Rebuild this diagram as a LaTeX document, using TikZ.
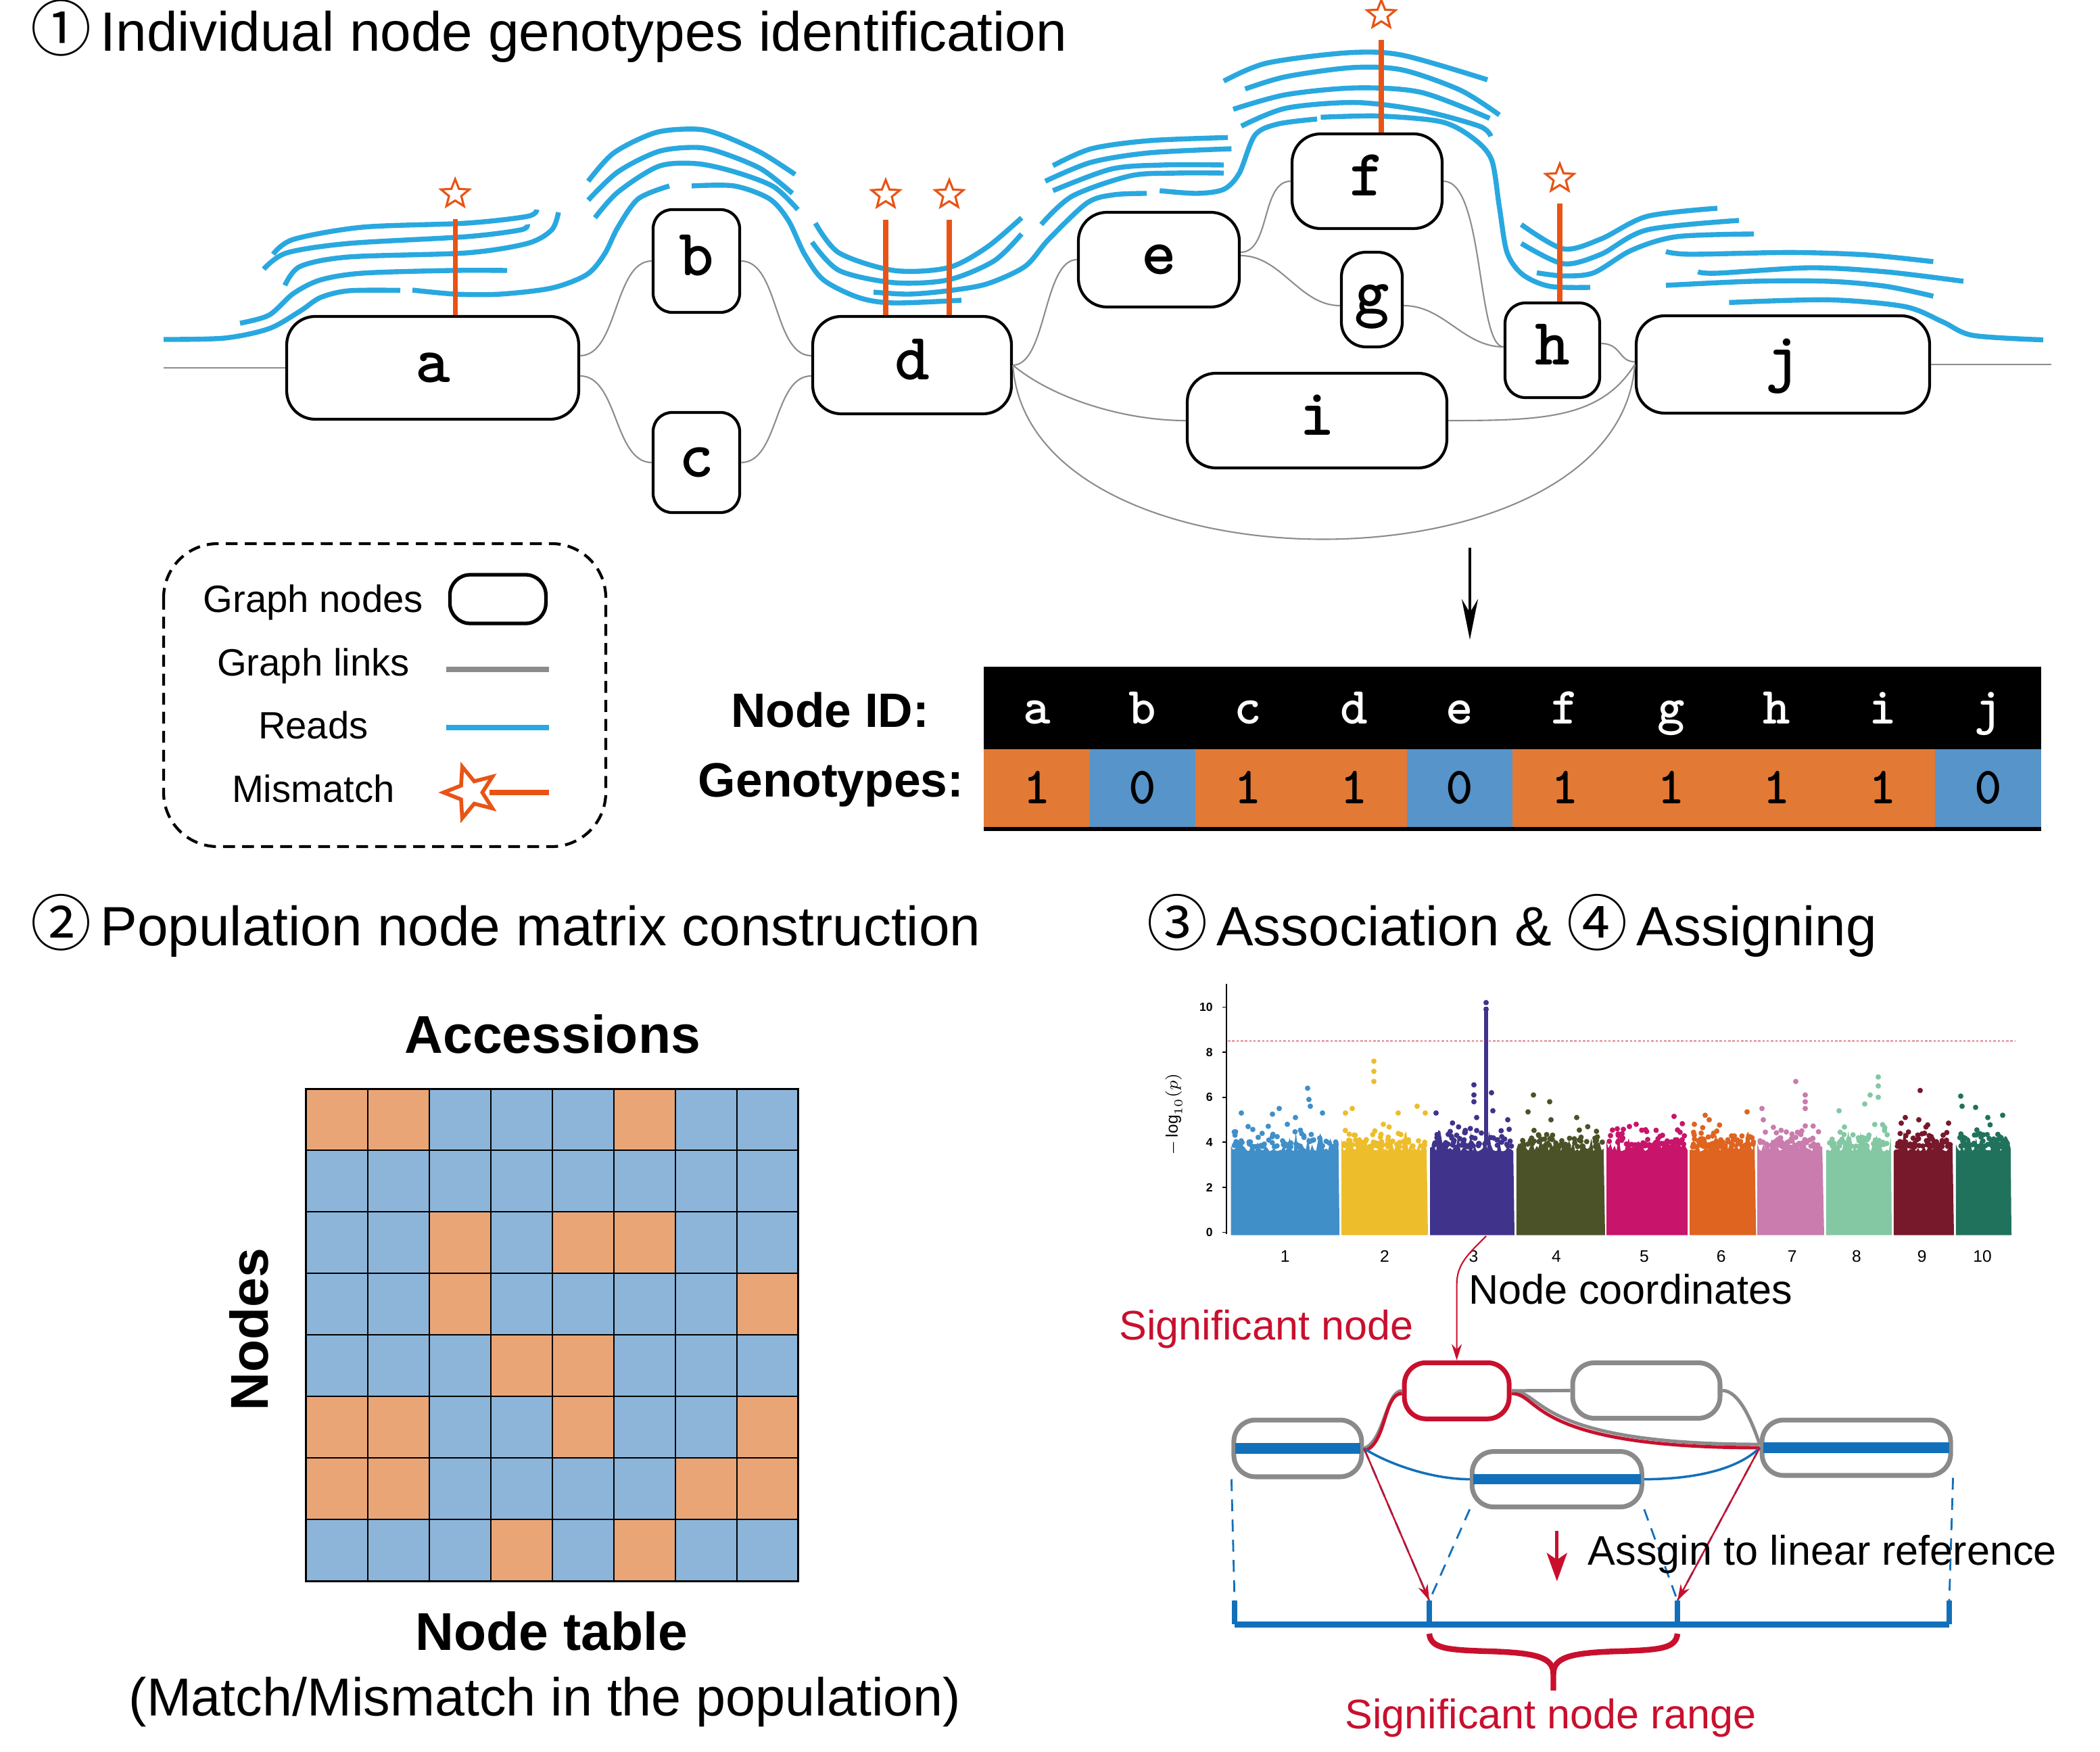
\documentclass[tikz,border=0pt]{standalone}
\usepackage{fontspec}
\setmainfont{Liberation Sans}
\newfontfamily\circfont{Noto Sans CJK SC}
\usetikzlibrary{arrows.meta,shapes.geometric}
\newcommand\setfs[1]{\fontsize{#1}{#1}\selectfont}
\newcommand\circnum[1]{{\circfont\setfs{25.6}#1}\hspace{-2.8pt}}
\definecolor{readblue}{RGB}{41,168,224}
\definecolor{mmorange}{RGB}{232,84,22}
\definecolor{linkgray}{RGB}{140,140,140}
\definecolor{nodegray}{RGB}{138,138,138}
\definecolor{gt1}{RGB}{226,121,52}
\definecolor{gt0}{RGB}{86,148,201}
\definecolor{mc1}{RGB}{234,165,118}
\definecolor{mc0}{RGB}{140,181,217}
\definecolor{sigred}{RGB}{200,16,46}
\definecolor{refblue}{RGB}{18,112,186}
\definecolor{chr1}{RGB}{64,143,201}
\definecolor{chr2}{RGB}{237,189,44}
\definecolor{chr3}{RGB}{63,51,139}
\definecolor{chr4}{RGB}{75,82,40}
\definecolor{chr5}{RGB}{200,20,106}
\definecolor{chr6}{RGB}{222,100,32}
\definecolor{chr7}{RGB}{201,124,173}
\definecolor{chr8}{RGB}{131,200,163}
\definecolor{chr9}{RGB}{120,24,43}
\definecolor{chr10}{RGB}{32,114,92}
\tikzset{
  gnode/.style={draw,line width=1.2pt,rounded corners=0.42cm,inner sep=0pt,
    font=\ttfamily\bfseries\setfs{28},text height=0.44cm,text depth=0cm},
  link/.style={linkgray,line width=0.6pt},
  read/.style={readblue,line width=2.1pt},
  mm/.style={mmorange,line width=2.1pt,shorten >=0.26cm},
  mstar/.style={star,star points=5,star point ratio=2.3,draw=mmorange,fill=white,
    line width=0.9pt,minimum size=0.44cm,inner sep=0pt},
  title/.style={anchor=base west,inner sep=0pt,font=\setfs{23.3}},
  legtext/.style={anchor=base,font=\setfs{16}},
  idtext/.style={anchor=base,white,font=\ttfamily\bfseries\setfs{22}},
  gttext/.style={anchor=base,font=\ttfamily\bfseries\setfs{22}},
  boldlab/.style={font=\bfseries\setfs{22.4}},
  snode/.style={draw=nodegray,line width=2pt,rounded corners=0.32cm,inner sep=0pt,minimum height=0.82cm},
  bar/.style={refblue,line width=4.4pt,shorten <=1.5pt,shorten >=1.5pt},
  proj/.style={refblue,line width=0.8pt,dash pattern=on 5pt off 3.5pt},
  redarr/.style={sigred,line width=0.7pt,-{Stealth[length=0.24cm,width=0.15cm]}},
  plain/.style={anchor=base west,inner sep=0pt,font=\setfs{17.4}},
  redlab/.style={plain,sigred}
}
\begin{document}
\begin{tikzpicture}[x=0.02cm,y=-0.02cm]
\useasboundingbox (0,0) rectangle (1553,1295.5);
% titles
\node[title] (t1) at (22.6,38) {\circnum{①} Individual node genotypes identification};
\node[title] (t2) at (22.6,699.4) {\circnum{②} Population node matrix construction};
\node[title] (t3) at (847.8,699.4) {\circnum{③} Association \& \circnum{④} Assigning};

% graph nodes
\node[gnode,minimum width=4.32cm,minimum height=1.52cm] (a) at (320,272) {a};
\node[gnode,rounded corners=0.28cm,minimum width=1.28cm,minimum height=1.52cm] (b) at (515,193) {b};
\node[gnode,rounded corners=0.28cm,minimum width=1.28cm,minimum height=1.48cm] (c) at (515,342) {c};
\node[gnode,minimum width=2.94cm,minimum height=1.44cm] (d) at (674.5,270) {d};
\node[gnode,minimum width=2.38cm,minimum height=1.40cm] (e) at (857,192) {e};
\node[gnode,minimum width=2.22cm,minimum height=1.40cm] (f) at (1011,134) {f};
\node[gnode,rounded corners=0.36cm,minimum width=0.90cm,minimum height=1.40cm] (g) at (1014.5,221.5) {g};
\node[gnode,rounded corners=0.3cm,minimum width=1.40cm,minimum height=1.40cm] (h) at (1148,259) {h};
\node[gnode,minimum width=3.84cm,minimum height=1.40cm] (i) at (974,311) {i};
\node[gnode,minimum width=4.34cm,minimum height=1.44cm] (j) at (1318.5,269.5) {j};
\coordinate (in) at (121,272);
\coordinate (out) at (1517,269.5);

% graph links
\draw[link] (in) -- (a.west);
\draw[link] ([yshift=0.18cm]a.east) .. controls +(28,0) and +(-28,0) .. (b.west);
\draw[link] ([yshift=-0.12cm]a.east) .. controls +(28,0) and +(-28,0) .. (c.west);
\draw[link] (b.east) .. controls +(28,0) and +(-28,0) .. ([yshift=0.14cm]d.west);
\draw[link] (c.east) .. controls +(28,0) and +(-28,0) .. ([yshift=-0.16cm]d.west);
\draw[link] (d.east) .. controls +(25,0) and +(-25,0) .. (e.west);
\draw[link] (d.east) .. controls +(30,25) and +(-45,0) .. (i.west);
\draw[link] (d.east) .. controls +(12,172) and +(-12,172) .. (j.west);
\draw[link] ([yshift=0.11cm]e.east) .. controls +(22,0) and +(-22,0) .. (f.west);
\draw[link] ([yshift=0.06cm]e.east) .. controls +(30,0) and +(-30,0) .. ([yshift=-0.09cm]g.west);
\draw[link] (f.east) .. controls +(30,0) and +(-20,0) .. ([yshift=0.05cm]h.west);
\draw[link] ([yshift=-0.09cm]g.east) .. controls +(30,0) and +(-30,0) .. ([yshift=0.05cm]h.west);
\draw[link] ([yshift=0.1cm]h.east) .. controls +(15,0) and +(-12,0) .. ([yshift=0.04cm]j.west);
\draw[link] (i.east) .. controls +(70,0) and +(-25,40) .. (j.west);
\draw[link] (j.east) -- (out);

% reads
\draw[read] plot[smooth] coordinates {(121,251) (166,250) (199,243) (222,230) (237,220) (258,215) (296,214.7)};
\draw[read] plot[smooth] coordinates {(305,214.5) (337,217.5) (370,217.5) (408,213) (434,203) (447,188) (457,168) (472,147) (495,137.5)};
\draw[read] plot[smooth] coordinates {(511.5,137.5) (543,137.5) (569,147) (583,163) (595,188) (609,207) (635,220) (661,224) (711,222)};
\draw[read] plot[smooth] coordinates {(177.5,239) (199,233) (217,217) (237,207) (268,202) (334,200) (375,200)};
\draw[read] plot[smooth] coordinates {(210.7,211) (222,197) (258,190) (345,187) (390,180) (408,170) (413,157)};
\draw[read] plot[smooth] coordinates {(195,199) (212,187) (258,180) (345,175) (385,170) (390,166)};
\draw[read] plot[smooth] coordinates {(202,188) (217,177) (268,168) (345,165) (390,160) (397,155)};
\draw[read] plot[smooth] coordinates {(435,134) (454,113) (485,98) (515,95.5) (534,100) (563,113) (588,129)};
\draw[read] plot[smooth] coordinates {(435,148) (457,127) (487,112) (515,109) (534,113) (563,125) (586,143)};
\draw[read] plot[smooth] coordinates {(440,161) (457,142) (487,123) (515,121) (543,127) (572,138) (590,155)};
\draw[read] plot[smooth] coordinates {(603,165) (620.5,187) (661,200) (701,198) (729.6,183) (755.5,161)};
\draw[read] plot[smooth] coordinates {(600.5,179) (620.5,200) (661,209) (701,207) (735,193) (755.5,173)};
\draw[read] plot[smooth] coordinates {(646,216) (672,217.5) (701,215) (729.6,210) (758,197) (775.5,177) (804,150) (824,144) (848,143)};
\draw[read] plot[smooth] coordinates {(778.7,122.5) (807,110) (850,104) (908,101.7)};
\draw[read] plot[smooth] coordinates {(773,134) (807,120) (850,113) (910.7,110)};
\draw[read] plot[smooth] coordinates {(778.7,141) (821.8,125) (860,122) (905,122)};
\draw[read] plot[smooth] coordinates {(770,166) (793,145) (836,130) (870,128) (905,128)};
\draw[read] plot[smooth] coordinates {(857.6,141) (885,143) (905,140) (916.5,128) (928,100) (945,91.7) (974,88)};
\draw[read] plot[smooth] coordinates {(905,60) (936.6,46.7) (996.8,39) (1037,40.8) (1100,59)};
\draw[read] plot[smooth] coordinates {(920.8,65.8) (951,56.7) (999.7,50) (1037,51.7) (1080,66.7) (1108.8,85)};
\draw[read] plot[smooth] coordinates {(912,80.8) (951,70) (1002.6,65) (1051,68.3) (1101.6,87.5)};
\draw[read] plot[smooth] coordinates {(918,93.3) (951,80) (1002.6,75.8) (1051,81.7) (1094,93.3) (1102.5,100.8)};
\draw[read] plot[smooth] coordinates {(976.7,86.7) (1019.8,85.8) (1065.7,90) (1088.7,101.7) (1103,118) (1108.8,153) (1114.5,186.7) (1126,203) (1146,211.7) (1176,212.5)};
\draw[read] plot[smooth] coordinates {(1125,166) (1156,184) (1184,176.7) (1218,160) (1270,154)};
\draw[read] plot[smooth] coordinates {(1125,180) (1156,195) (1184,188) (1218,170) (1286,163)};
\draw[read] plot[smooth] coordinates {(1136.5,201.7) (1156,204) (1178.6,201.7) (1206.6,185) (1240,175) (1297,173)};
\draw[read] plot[smooth] coordinates {(1232,186) (1250,188) (1324.5,186.7) (1380.6,188.5) (1429.7,193.5)};
\draw[read] plot[smooth] coordinates {(1255.7,201) (1270,202) (1338.5,198) (1394.6,201) (1452,208)};
\draw[read] plot[smooth] coordinates {(1232,211) (1296,208) (1352.5,208) (1394.6,211.7) (1429.7,219)};
\draw[read] plot[smooth] coordinates {(1278.7,223.7) (1352.5,221.7) (1408.6,226.7) (1436.7,238) (1459,248) (1511,251.3)};

% mismatches
\node[mstar] (sa) at (336.6,143.5) {};
\node[mstar] (sd1) at (655,144) {};
\node[mstar] (sd2) at (702,144) {};
\node[mstar] (sf) at (1021.5,11) {};
\node[mstar] (sh) at (1153.5,132) {};
\draw[mm] (a.north -| sa) -- (sa);
\draw[mm] (d.north -| sd1) -- (sd1);
\draw[mm] (d.north -| sd2) -- (sd2);
\draw[mm] (f.north -| sf) -- (sf);
\draw[mm] (h.north -| sh) -- (sh);

% legend
\draw[line width=1.2pt,dash pattern=on 5pt off 3pt,rounded corners=0.8cm] (121,402) rectangle (448,626);
\node[legtext] (lg1) at (231.7,453) {Graph nodes};
\node[legtext] (lg2) at (231.7,500) {Graph links};
\node[legtext] (lg3) at (231.7,546) {Reads};
\node[legtext] (lg4) at (231.7,593) {Mismatch};
\node[draw,line width=1.5pt,rounded corners=0.3cm,minimum width=1.42cm,minimum height=0.72cm] (ls1) at (368.2,443) {};
\draw[linkgray,line width=2.1pt] (330,495) -- (406,495);
\draw[readblue,line width=2.3pt] (330,538) -- (406,538);
\node[mstar,minimum size=0.8cm,line width=1.6pt,shape border rotate=90] (ls4) at (348,586) {};
\draw[mmorange,line width=2.3pt] (ls4.center) ++(14,0) -- (406,586);

% genotype table
\coordinate (dn1) at (1087,405);
\coordinate (dn2) at (1087,473);
\draw[line width=1.3pt,-{Stealth[length=0.6cm,width=0.24cm,inset=0.2cm]}] (dn1) -- (dn2);
\def\tx{727.7} \def\tw{78.17}
\fill (727.7,493) rectangle (1509.4,554);
\foreach \n/\v [count=\k from 0] in {a/1,b/0,c/1,d/1,e/0,f/1,g/1,h/1,i/1,j/0}{
  \fill[gt\v] ({\tx+\tw*\k},554) rectangle ++(\tw,57.7);
  \node[idtext] (id\n) at ({\tx+\tw*(\k+0.5)},535) {\n};
  \node[gttext] (gv\n) at ({\tx+\tw*(\k+0.5)},594) {\v};
}
\fill (727.7,611.7) rectangle (1509.4,614.5);
\node[anchor=base east,inner sep=0pt,font=\bfseries\setfs{20.3}] (lid) at (687.5,537.5) {Node ID:};
\node[anchor=base east,inner sep=0pt,font=\bfseries\setfs{20.3}] (lgt) at (713,589) {Genotypes:};

% node matrix
\foreach \row [count=\r from 0] in {{1,1,0,0,0,1,0,0},{0,0,0,0,0,0,0,0},{0,0,1,0,1,1,0,0},{0,0,1,0,0,0,0,1},
    {0,0,0,1,1,0,0,0},{1,1,0,0,1,0,0,1},{1,1,0,0,0,0,1,1},{0,0,0,1,0,1,0,0}}
  \foreach \v [count=\q from 0] in \row
    \filldraw[fill=mc\v,draw=black,line width=0.6pt] ({226.3+45.5*\q},{805.2+45.5*\r}) rectangle ++(45.5,45.5);
\draw[line width=1pt] (226.3,805.2) rectangle ++(364,364);
\node[boldlab,anchor=base] (acc) at (408.6,778.9) {Accessions};
\node[boldlab,anchor=base,rotate=90] (nds) at (198,983) {Nodes};
\node[boldlab,anchor=base] (ntb) at (408,1220) {Node table};
\node[anchor=base,font=\setfs{22.5}] (mmp) at (403,1268.5) {(Match/Mismatch in the population)};

% manhattan plot
\pgfmathsetseed{11}
\foreach \xa/\xb/\cc in {910.3/990.6/chr1,992/1056/chr2,1057.6/1120/chr3,1121.4/1187/chr4,1188/1248/chr5,
    1249.5/1298.7/chr6,1299.6/1349/chr7,1350.4/1399/chr8,1400.4/1445/chr9,1446.4/1487.5/chr10}{
  \pgfmathsetmacro\xn{\xa+1.5}
  \fill[\cc] (\xa,913.3) \foreach \xx in {\xa,\xn,...,\xb} { -- (\xx,{911.3-16.66*(3.6+1.0*rnd*rnd)}) } -- (\xb,913.3) -- cycle;
  \foreach \k in {1,...,60}
    \fill[\cc] ({\xa+2+rnd*(\xb-\xa-4)},{911.3-16.66*(3.8+1.1*rnd*rnd)}) circle (2);
}
\fill[chr3] (1097.4,{911.3-16.66*4}) rectangle (1100.6,{911.3-16.66*10});
\foreach \px/\pv/\cc in {918/5.3/chr1,923/4.7/chr1,941/5.25/chr1,946/5.5/chr1,952/4.8/chr1,958/5.1/chr1,
    967/6.4/chr1,968/5.9/chr1,969/5.6/chr1,978/5.3/chr1,995/5.3/chr2,1000/5.5/chr2,1016/7.6/chr2,
    1016/7.15/chr2,1016/6.7/chr2,1023/4.8/chr2,1034/5.3/chr2,1048/5.6/chr2,1054/5.3/chr2,
    1062/5.3/chr3,1090/6.55/chr3,1090/6.1/chr3,1090/5.8/chr3,1092/5.1/chr3,1103/6.2/chr3,1104/5.4/chr3,
    1099/10.2/chr3,1099/9.9/chr3,1115/5.0/chr3,1130/5.35/chr4,1134/6.1/chr4,1146/5.8/chr4,1147/5.0/chr4,
    1166/5.1/chr4,1196/4.6/chr5,1205/4.7/chr5,1210/4.8/chr5,1238/5.15/chr5,1253/4.8/chr6,1261/5.2/chr6,
    1264/5.0/chr6,1292/5.35/chr6,1303/5.5/chr7,1304/5.0/chr7,1328/6.7/chr7,1335/6.1/chr7,1335/5.8/chr7,
    1335/5.5/chr7,1360/5.4/chr8,1379/5.7/chr8,1383/6.1/chr8,1389/6.9/chr8,1389/6.5/chr8,1389/6.0/chr8,
    1406/4.85/chr9,1409/5.1/chr9,1419/5.0/chr9,1420/6.3/chr9,1441/4.85/chr9,1450/6.05/chr10,1451/5.6/chr10,
    1461/5.55/chr10,1470/5.1/chr10,1481/5.2/chr10}
  \fill[\cc] (\px,{911.3-16.66*\pv}) circle (2);
\draw[line width=0.5pt] (907,727.5) -- (907,912.5);
\foreach \v in {0,2,...,10}
  \draw[line width=0.5pt] (907,{911.3-16.66*\v}) -- ++(-3,0) node[left=0.5pt,font=\bfseries\setfs{5}] (yt\v) {\v};
\node[rotate=90,font=\setfs{7}] (ylab) at (868,824) {$-\log_{10}(p)$};
\draw[sigred,line width=0.5pt,dash pattern=on 1pt off 0.8pt] (908,769.7) -- (1490.6,769.7);
\foreach \p/\lab in {950.4/1,1024/2,1089.7/3,1151/4,1216/5,1272.8/6,1325.4/7,1373/8,1421.4/9,1466/10}
  \node[anchor=base,font=\setfs{7}] (cx\lab) at (\p,933.3) {\lab};

% assigning to the linear reference
\node[snode,draw=sigred,minimum width=1.55cm,minimum height=0.83cm] (sn) at (1077.3,1028.4) {};
\node[snode,minimum width=2.18cm] (tn) at (1217.5,1028.2) {};
\node[snode,minimum width=1.89cm,minimum height=0.84cm] (ln) at (959.7,1071) {};
\node[snode,minimum width=2.51cm] (mn) at (1151.4,1093.8) {};
\node[snode,minimum width=2.79cm] (rn) at (1372.8,1070.5) {};
\draw[bar] (ln.west) -- (ln.east);
\draw[bar] (mn.west) -- (mn.east);
\draw[bar] (rn.west) -- (rn.east);
\draw[nodegray,line width=1.4pt] (ln.east) .. controls +(15,-5) and +(-12,0) .. (sn.west);
\draw[sigred,line width=1.4pt] ([yshift=-0.04cm]ln.east) .. controls +(17,-5) and +(-14,0) .. ([yshift=-0.04cm]sn.west);
\draw[nodegray,line width=1.4pt] (sn.east) .. controls +(24,0) and +(-168,0) .. ([yshift=0.05cm]rn.west);
\draw[sigred,line width=1.4pt] ([yshift=-0.04cm]sn.east) .. controls +(22,0) and +(-172,0) .. (rn.west);
\draw[nodegray,line width=1.4pt] (sn.east) -- (tn.west);
\draw[nodegray,line width=1.4pt] (tn.east) .. controls +(12,0) and +(-6,-18) .. ([yshift=0.05cm]rn.west);
\draw[refblue,line width=1pt] (ln.east) .. controls +(15,10) and +(-30,0) .. (mn.west);
\draw[refblue,line width=1pt] (mn.east) .. controls +(40,0) and +(-15,15) .. (rn.west);
\coordinate (r1) at (913,1183.6);
\coordinate (r2) at (1057,1183.6);
\coordinate (r3) at (1240.5,1183.6);
\coordinate (r4) at (1441.5,1183.6);
\draw[proj] (ln.south west) -- (r1);
\draw[proj] (ln.east) -- (r2);
\draw[proj] (mn.south west) -- (r2);
\draw[proj] (mn.south east) -- (r3);
\draw[proj] (rn.west) -- (r3);
\draw[proj] (rn.south east) -- (r4);
\draw[redarr] (ln.east) -- (r2);
\draw[redarr] (rn.west) -- (r3);
\draw[refblue,line width=2.5pt] (913,1201.2) -- (1441.5,1201.2);
\foreach \i in {1,...,4}
  \draw[refblue,line width=2.2pt] (r\i) -- ++(0,17.6);
\coordinate (pk) at (1099,914);
\draw[redarr,line width=0.6pt] (pk) .. controls (1085,928) and (1077.3,935) .. (1077.3,950) -- (sn.north);
\node[plain] (ncd) at (1085.7,964.2) {Node coordinates};
\node[redlab] (sgn) at (827.3,990.8) {Significant node};
\coordinate (as1) at (1151.4,1131.8);
\coordinate (as2) at (1151.4,1169.3);
\draw[sigred,line width=1.4pt,-{Stealth[length=0.42cm,width=0.3cm,inset=0.1cm]}] (as1) -- (as2);
\node[plain] (asg) at (1174,1157) {Assgin to linear reference};
\draw[sigred,line width=2.4pt] (1057,1208) .. controls (1058,1219) and (1070,1220) .. (1100,1221)
  .. controls (1138,1222) and (1148.75,1226) .. (1148.75,1238) -- (1148.75,1250);
\draw[sigred,line width=2.4pt] (1240.5,1208) .. controls (1239.5,1219) and (1227.5,1220) .. (1197.5,1221)
  .. controls (1159.5,1222) and (1148.75,1226) .. (1148.75,1238);
\node[redlab] (sgr) at (994.4,1278.3) {Significant node range};
\end{tikzpicture}
\end{document}
